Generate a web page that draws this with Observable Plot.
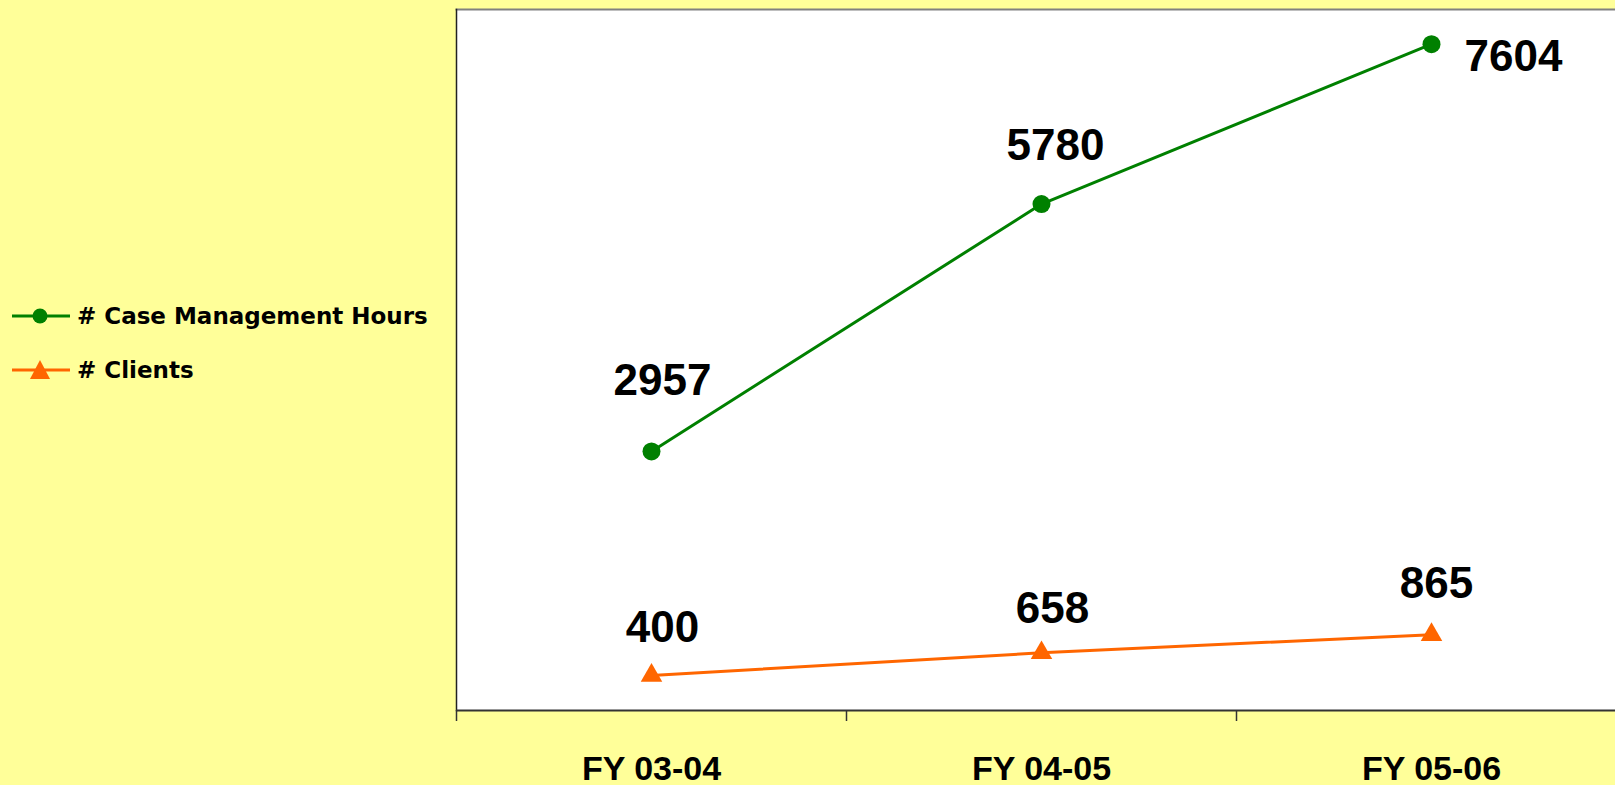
<!DOCTYPE html>
<html>
<head>
<meta charset="utf-8">
<script src="https://cdn.jsdelivr.net/npm/d3@7"></script>
<script src="https://cdn.jsdelivr.net/npm/@observablehq/plot@0.6"></script>
<style>
  html, body { margin: 0; padding: 0; background: #FFFF99; }
  #wrap { position: relative; width: 1615px; height: 785px; overflow: hidden; }
  #chart { position: absolute; left: 0; top: 0; }
  .leg { position: absolute; left: 12px; height: 24px; display: flex; align-items: center;
         font-family: "DejaVu Sans", sans-serif; font-weight: bold; font-size: 23px; color: #000; white-space: nowrap; }
  .leg svg { margin-right: 6px; }
</style>
</head>
<body>
<div id="wrap">
  <div id="chart"></div>
</div>
<script>
const categories = ["FY 03-04", "FY 04-05", "FY 05-06"];
const caseHours = [2957, 5780, 7604];
const clients = [400, 658, 865];
const seriesNames = ["# Case Management Hours", "# Clients"];
const seriesColors = ["#008000", "#FF6600"];

const hoursRows = categories.map((c, i) => ({i, cat: c, v: caseHours[i]}));
const clientRows = categories.map((c, i) => ({i, cat: c, v: clients[i]}));

const labelFont = {fontSize: 44, fontWeight: "bold", fill: "#000", textAnchor: "middle"};
function lbl(rows, idx, dx, dy) {
  return Plot.text(rows, {filter: (d) => d.i === idx, x: "i", y: "v", text: (d) => String(d.v), dx, dy, ...labelFont});
}

const chart = Plot.plot({
  width: 1615,
  height: 785,
  marginLeft: 456,
  marginRight: 0,
  marginTop: 9,
  marginBottom: 75,
  style: {background: "transparent", fontFamily: "'Liberation Sans', Arial, sans-serif", overflow: "visible"},
  x: {type: "linear", domain: [-0.5, 2.5], range: [456, 1626], axis: null},
  y: {domain: [0, 8000], axis: null},
  marks: [
    Plot.frame({fill: "white", stroke: null}),
    Plot.frame({anchor: "top", stroke: "#808080", strokeWidth: 2}),
    Plot.frame({anchor: "left", stroke: "#222", strokeWidth: 1.5}),
    Plot.axisX({ticks: [-0.5, 0.5, 1.5], tickSize: 11, tickFormat: () => "", label: null, stroke: "#333", strokeWidth: 1.5}),
    Plot.axisX({ticks: [0, 1, 2], tickSize: 0, tickPadding: 45, tickFormat: (i) => categories[i], label: null,
      fontSize: 34, fontWeight: "bold", fill: "#000"}),
    Plot.ruleY([0], {stroke: "#333", strokeWidth: 2}),
    Plot.line(hoursRows, {x: "i", y: "v", stroke: seriesColors[0], strokeWidth: 3}),
    Plot.dot(hoursRows, {x: "i", y: "v", r: 9, fill: seriesColors[0], stroke: null}),
    Plot.line(clientRows, {x: "i", y: "v", stroke: seriesColors[1], strokeWidth: 3}),
    Plot.dot(clientRows, {x: "i", y: "v", r: 8, symbol: "triangle", fill: seriesColors[1], stroke: null}),
    lbl(hoursRows, 0, 11, -70),
    lbl(hoursRows, 1, 14, -58),
    lbl(hoursRows, 2, 82, 13),
    lbl(clientRows, 0, 11, -48),
    lbl(clientRows, 1, 11, -44),
    lbl(clientRows, 2, 5, -51)
  ]
});
document.getElementById("chart").appendChild(chart);

// Legend
const wrap = document.getElementById("wrap");
const legTops = [304, 358];
seriesNames.forEach((name, k) => {
  const div = document.createElement("div");
  div.className = "leg";
  div.style.top = legTops[k] + "px";
  const marker = k === 0
    ? `<circle cx="28" cy="12" r="7.5" fill="${seriesColors[k]}"/>`
    : `<path d="M28,2 L38,21 L18,21 Z" fill="${seriesColors[k]}"/>`;
  div.innerHTML = `<svg width="59" height="24"><line x1="0" x2="58" y1="12" y2="12" stroke="${seriesColors[k]}" stroke-width="3"/>${marker}</svg><span>${name}</span>`;
  wrap.appendChild(div);
});
</script>
</body>
</html>
